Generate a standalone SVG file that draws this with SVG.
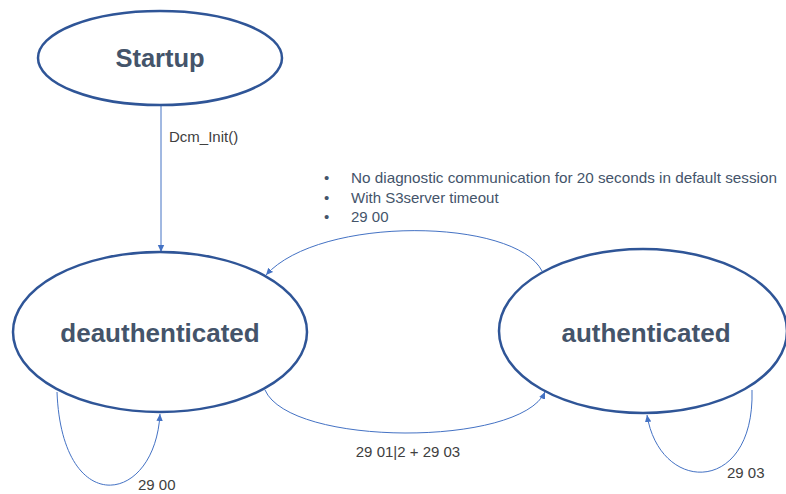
<svg xmlns="http://www.w3.org/2000/svg" width="786" height="494" viewBox="0 0 786 494">
<style>
.state{fill:#fff;stroke:#2F5597;stroke-width:2.5}
.title{font-family:"Liberation Sans",Arial,sans-serif;font-weight:bold;fill:#44546A;text-anchor:middle}
.conn{fill:none;stroke:#4472C4;stroke-width:1}
.lbl{font-family:"Liberation Sans",Arial,sans-serif;font-size:15px;fill:#404040}
.bul{font-family:"Liberation Sans",Arial,sans-serif;font-size:15px;fill:#44546A}
</style>
<defs>
<marker id="arr" markerWidth="8" markerHeight="8" refX="7" refY="4" orient="auto" markerUnits="userSpaceOnUse">
<path d="M0,0.8 L7,4 L0,7.2 Z" fill="#4472C4"/>
</marker>
</defs>
<rect width="786" height="494" fill="#fff"/>
<g id="connectors">
<path class="conn" d="M161,106 L161,252" marker-end="url(#arr)"/>
<path class="conn" d="M542,271 C515,218 320,215 266,275" marker-end="url(#arr)"/>
<path class="conn" d="M265,390 C290,447 520,447 545,392" marker-end="url(#arr)"/>
<path class="conn" d="M57,392 C62,520 155,505 160,414" marker-end="url(#arr)"/>
<path class="conn" d="M752,390 C755,495 660,495 647,415" marker-end="url(#arr)"/>
</g>
<g id="startup">
<ellipse class="state" cx="160" cy="58" rx="122" ry="47"/>
<text class="title" x="160" y="67" font-size="25.5">Startup</text>
</g>
<g id="deauthenticated">
<ellipse class="state" cx="160" cy="332" rx="147" ry="80"/>
<text class="title" x="160" y="342" font-size="26">deauthenticated</text>
</g>
<g id="authenticated">
<ellipse class="state" cx="643" cy="331" rx="144" ry="82"/>
<text class="title" x="646" y="342" font-size="26">authenticated</text>
</g>
<g id="labels">
<text class="lbl" x="169" y="142" font-size="16">Dcm_Init()</text>
<text class="lbl" x="408" y="457" text-anchor="middle">29 01|2 + 29 03</text>
<text class="lbl" x="138" y="490">29 00</text>
<text class="lbl" x="727" y="478">29 03</text>
<text class="bul" x="324" y="183">•</text>
<text class="bul" x="351" y="183" textLength="426" lengthAdjust="spacingAndGlyphs">No diagnostic communication for 20 seconds in default session</text>
<text class="bul" x="324" y="203">•</text>
<text class="bul" x="351" y="203">With S3server timeout</text>
<text class="bul" x="324" y="222">•</text>
<text class="bul" x="351" y="222">29 00</text>
</g>
</svg>
